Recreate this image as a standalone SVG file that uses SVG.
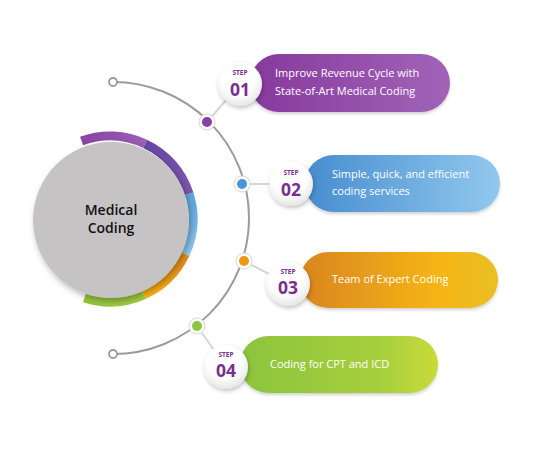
<svg xmlns="http://www.w3.org/2000/svg" width="540" height="450" viewBox="0 0 540 450">
<defs>
<style>
.pilltxt{font-family:"Open Sans","Liberation Sans",sans-serif;font-size:11px;fill:#ffffff}
.step{font-family:"Open Sans","Liberation Sans",sans-serif;font-weight:700;fill:#7a2e8e;text-anchor:middle}
.stepw{font-size:6.5px}
.num{font-size:17.5px}
.ctr{font-family:"Open Sans","Liberation Sans",sans-serif;font-size:14px;font-weight:600;fill:#111111;text-anchor:middle}
.conn{stroke:#d6d6d6;stroke-width:2;fill:none}
.arc{stroke:#9b9b9b;stroke-width:2;fill:none}
.endc{stroke:#9b9b9b;stroke-width:1.8;fill:#ffffff}
.dotring{fill:#ffffff;stroke:#d8d8d8;stroke-width:1}
.ring{fill:none;stroke-width:9}
.stepc{fill:url(#stepg);filter:url(#sh)}
.pill{filter:url(#sh2)}
</style>
<filter id="sh" x="-40%" y="-40%" width="180%" height="180%">
<feDropShadow dx="1" dy="2" stdDeviation="2" flood-color="#000" flood-opacity="0.25"/>
</filter>
<filter id="sh2" x="-10%" y="-30%" width="120%" height="160%">
<feDropShadow dx="0" dy="2" stdDeviation="1.5" flood-color="#000" flood-opacity="0.18"/>
</filter>
<filter id="sh3" x="-20%" y="-20%" width="140%" height="140%">
<feDropShadow dx="2" dy="3" stdDeviation="3" flood-color="#000" flood-opacity="0.3"/>
</filter>
<radialGradient id="stepg" cx="0.45" cy="0.35" r="0.7">
<stop offset="0.55" stop-color="#ffffff"/>
<stop offset="1" stop-color="#e2e2e2"/>
</radialGradient>
<linearGradient id="g1" x1="0" y1="0" x2="1" y2="0">
<stop offset="0" stop-color="#87399d"/>
<stop offset="1" stop-color="#a064b8"/>
</linearGradient>
<linearGradient id="g2" x1="0" y1="0" x2="1" y2="0">
<stop offset="0" stop-color="#468dcf"/>
<stop offset="1" stop-color="#92c8ee"/>
</linearGradient>
<linearGradient id="g3" x1="0" y1="0" x2="1" y2="0">
<stop offset="0" stop-color="#d9851f"/>
<stop offset="0.7" stop-color="#f6b516"/>
<stop offset="1" stop-color="#e9bf24"/>
</linearGradient>
<linearGradient id="g4" x1="0" y1="0" x2="1" y2="0">
<stop offset="0" stop-color="#8cc43e"/>
<stop offset="0.7" stop-color="#a6cf3e"/>
<stop offset="1" stop-color="#c8da38"/>
</linearGradient>
<linearGradient id="r1" gradientUnits="userSpaceOnUse" x1="81" y1="141" x2="145" y2="144">
<stop offset="0" stop-color="#8843a3"/><stop offset="1" stop-color="#9a5cb4"/>
</linearGradient>
<linearGradient id="r2" gradientUnits="userSpaceOnUse" x1="145" y1="144" x2="189" y2="194">
<stop offset="0" stop-color="#6647a2"/><stop offset="1" stop-color="#7c55af"/>
</linearGradient>
<linearGradient id="r3" gradientUnits="userSpaceOnUse" x1="189" y1="194" x2="185" y2="254">
<stop offset="0" stop-color="#5aa4dc"/><stop offset="1" stop-color="#91c8ee"/>
</linearGradient>
<linearGradient id="r4" gradientUnits="userSpaceOnUse" x1="185" y1="254" x2="144" y2="295">
<stop offset="0" stop-color="#e08a22"/><stop offset="1" stop-color="#fcb716"/>
</linearGradient>
<linearGradient id="r5" gradientUnits="userSpaceOnUse" x1="144" y1="295" x2="84" y2="298">
<stop offset="0" stop-color="#a2cd42"/><stop offset="1" stop-color="#94c33d"/>
</linearGradient>
</defs>

<g id="connectors">
<path class="arc" d="M113,82 A136,136 0 0 1 113,354"/>
<circle class="endc" cx="113" cy="82" r="4"/>
<circle class="endc" cx="113" cy="354" r="4"/>
<line class="conn" x1="207" y1="122" x2="240" y2="84"/>
<line class="conn" x1="242" y1="184" x2="291" y2="184"/>
<line class="conn" x1="244" y1="261" x2="288" y2="284"/>
<line class="conn" x1="197" y1="326" x2="226" y2="367"/>
</g>

<g id="node-center">
<path class="ring" stroke="url(#r1)" d="M81.6,141 A83,83 0 0 1 145.1,143.8"/>
<path class="ring" stroke="url(#r2)" d="M145.1,143.8 A83,83 0 0 1 189.1,193.9"/>
<path class="ring" stroke="url(#r3)" d="M189.1,193.9 A83,83 0 0 1 185.2,254.1"/>
<path class="ring" stroke="url(#r4)" d="M185.2,254.1 A83,83 0 0 1 143.8,294.8"/>
<path class="ring" stroke="url(#r5)" d="M143.8,294.8 A83,83 0 0 1 84.4,297.9"/>
<circle cx="111" cy="220" r="78" fill="#c6c3c4" filter="url(#sh3)"/>
<text class="ctr" x="111" y="215">Medical</text>
<text class="ctr" x="111" y="233">Coding</text>
</g>

<g id="node-step1">
<rect class="pill" x="250" y="54" width="200" height="58" rx="29" fill="url(#g1)"/>
<text class="pilltxt" x="275" y="77">Improve Revenue Cycle with</text>
<text class="pilltxt" x="275" y="95">State-of-Art Medical Coding</text>
<circle class="stepc" cx="240" cy="84" r="22"/>
<text class="step stepw" x="240" y="75">STEP</text>
<text class="step num" x="240" y="96">01</text>
<circle class="dotring" cx="207" cy="122" r="8"/>
<circle cx="207" cy="122" r="5" fill="#8a3fa2"/>
</g>

<g id="node-step2">
<rect class="pill" x="305" y="155" width="195" height="57" rx="28.5" fill="url(#g2)"/>
<text class="pilltxt" x="332" y="178">Simple, quick, and efficient</text>
<text class="pilltxt" x="332" y="195">coding services</text>
<circle class="stepc" cx="291" cy="184" r="22"/>
<text class="step stepw" x="291" y="175">STEP</text>
<text class="step num" x="291" y="196">02</text>
<circle class="dotring" cx="242" cy="184" r="8"/>
<circle cx="242" cy="184" r="5" fill="#4a94d8"/>
</g>

<g id="node-step3">
<rect class="pill" x="300" y="252" width="198" height="56" rx="28" fill="url(#g3)"/>
<text class="pilltxt" x="332" y="283">Team of Expert Coding</text>
<circle class="stepc" cx="288" cy="284" r="22"/>
<text class="step stepw" x="288" y="274">STEP</text>
<text class="step num" x="288" y="294">03</text>
<circle class="dotring" cx="244" cy="261" r="8"/>
<circle cx="244" cy="261" r="5" fill="#ee9514"/>
</g>

<g id="node-step4">
<rect class="pill" x="240" y="336" width="198" height="57" rx="28.5" fill="url(#g4)"/>
<text class="pilltxt" x="270" y="368">Coding for CPT and ICD</text>
<circle class="stepc" cx="226" cy="367" r="22"/>
<text class="step stepw" x="226" y="357">STEP</text>
<text class="step num" x="226" y="377">04</text>
<circle class="dotring" cx="197" cy="326" r="8"/>
<circle cx="197" cy="326" r="5" fill="#8cc63f"/>
</g>
</svg>
